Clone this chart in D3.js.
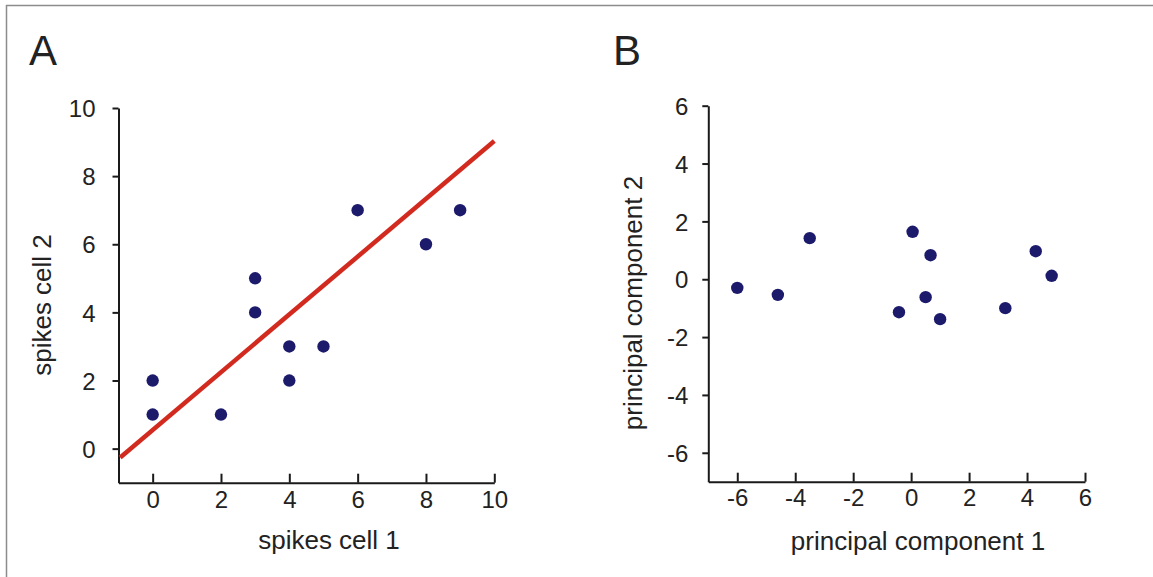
<!DOCTYPE html>
<html>
<head>
<meta charset="utf-8">
<script src="https://cdn.jsdelivr.net/npm/d3@7"></script>
<style>
  html, body { margin: 0; padding: 0; background: #fff; }
  svg { display: block; }
  text { font-family: "Liberation Sans", Arial, Helvetica, sans-serif; fill: #222; }
</style>
</head>
<body>
<svg id="chart" width="1153" height="577"></svg>
<script>
// Panel A: spike counts of two cells on repeated trials
const cell1Spikes = [0, 0, 2, 3, 3, 4, 4, 5, 6, 8, 9];
const cell2Spikes = [2, 1, 1, 5, 4, 3, 2, 3, 7, 6, 7];
// Fitted line through the spike counts (start and end)
const fitX = [-0.95, 10];
const fitY = [-0.26, 9.03];
const spikeTicks = [0, 2, 4, 6, 8, 10];

// Panel B: the same trials projected onto the principal components
const pc1 = [-6.0, -4.6, -3.5, 0.05, 0.67, 0.5, -0.42, 1.0, 3.25, 4.3, 4.85];
const pc2 = [-0.3, -0.54, 1.42, 1.64, 0.83, -0.62, -1.14, -1.38, -1.0, 0.97, 0.12];
const pcTicks = [-6, -4, -2, 0, 2, 4, 6];

const svg = d3.select("#chart");
const dotColor = "#1c1a6b";
const axisColor = "#1a1a1a";
// Plain hyphen for negative tick values
const tickFmt = d => String(d);

// Frame edges along the top and left of the figure
svg.append("line").attr("x1", 6.5).attr("x2", 6.5).attr("y1", 5).attr("y2", 577)
  .attr("stroke", "#8c8c8c").attr("stroke-width", 1.5);
svg.append("line").attr("x1", 6).attr("x2", 1153).attr("y1", 5.5).attr("y2", 5.5)
  .attr("stroke", "#8c8c8c").attr("stroke-width", 1.5);

function styleAxis(g, fontSize) {
  g.attr("font-family", null).attr("font-size", null);
  g.selectAll("path.domain").attr("stroke", axisColor).attr("stroke-width", 2);
  g.selectAll(".tick line").attr("stroke", axisColor).attr("stroke-width", 2);
  g.selectAll(".tick text")
    .attr("fill", "#222")
    .style("font-size", fontSize + "px")
    .style("font-family", '"Liberation Sans", Arial, sans-serif');
}

function panel(opts) {
  const x = d3.scaleLinear().domain(opts.xDomain).range(opts.xRange);
  const y = d3.scaleLinear().domain(opts.yDomain).range(opts.yRange);

  const gx = svg.append("g")
    .attr("transform", `translate(0,${opts.yRange[0]})`)
    .call(d3.axisBottom(x).tickValues(opts.xTicks).tickSize(-9).tickSizeOuter(0)
      .tickPadding(opts.xPad).tickFormat(tickFmt));
  styleAxis(gx, 24);

  const gy = svg.append("g")
    .attr("transform", `translate(${opts.xRange[0]},0)`)
    .call(d3.axisLeft(y).tickValues(opts.yTicks).tickSize(6).tickSizeOuter(0)
      .tickPadding(opts.yPad).tickFormat(tickFmt));
  styleAxis(gy, 24);
  gy.selectAll(".tick text").attr("dy", "0.36em");

  if (opts.line) {
    svg.append("path")
      .datum(d3.zip(opts.line[0], opts.line[1]))
      .attr("fill", "none")
      .attr("stroke", "#d22a1f")
      .attr("stroke-width", 4.5)
      .attr("d", d3.line().x(d => x(d[0])).y(d => y(d[1])));
  }

  svg.append("g").selectAll("circle")
    .data(d3.zip(opts.xs, opts.ys))
    .join("circle")
    .attr("cx", d => x(d[0]))
    .attr("cy", d => y(d[1]))
    .attr("r", 6.2)
    .attr("fill", dotColor);

  svg.append("text")
    .attr("x", opts.xTitlePos[0]).attr("y", opts.xTitlePos[1])
    .attr("text-anchor", "middle")
    .style("font-size", "26px")
    .text(opts.xTitle);

  svg.append("text")
    .attr("transform", `translate(${opts.yTitlePos[0]},${opts.yTitlePos[1]}) rotate(-90)`)
    .attr("text-anchor", "middle")
    .style("font-size", "26px")
    .text(opts.yTitle);

  svg.append("text")
    .attr("x", opts.labelPos[0]).attr("y", opts.labelPos[1])
    .style("font-size", "42px")
    .attr("fill", "#111")
    .text(opts.label);
}

panel({
  label: "A", labelPos: [29, 65],
  xs: cell1Spikes, ys: cell2Spikes, line: [fitX, fitY],
  xDomain: [-1, 10], yDomain: [-1, 10],
  xRange: [118.5, 494.3], yRange: [482.7, 108],
  xTicks: spikeTicks, yTicks: spikeTicks,
  xPad: 8, yPad: 17,
  xTitle: "spikes cell 1", xTitlePos: [329, 549],
  yTitle: "spikes cell 2", yTitlePos: [51, 305]
});

panel({
  label: "B", labelPos: [613, 65],
  xs: pc1, ys: pc2,
  xDomain: [-7, 6], yDomain: [-7, 6],
  xRange: [708.3, 1085], yRange: [481.7, 105.7],
  xTicks: pcTicks, yTicks: pcTicks,
  xPad: 7, yPad: 14,
  xTitle: "principal component 1", xTitlePos: [918, 550],
  yTitle: "principal component 2", yTitlePos: [641.5, 303]
});
</script>
</body>
</html>
